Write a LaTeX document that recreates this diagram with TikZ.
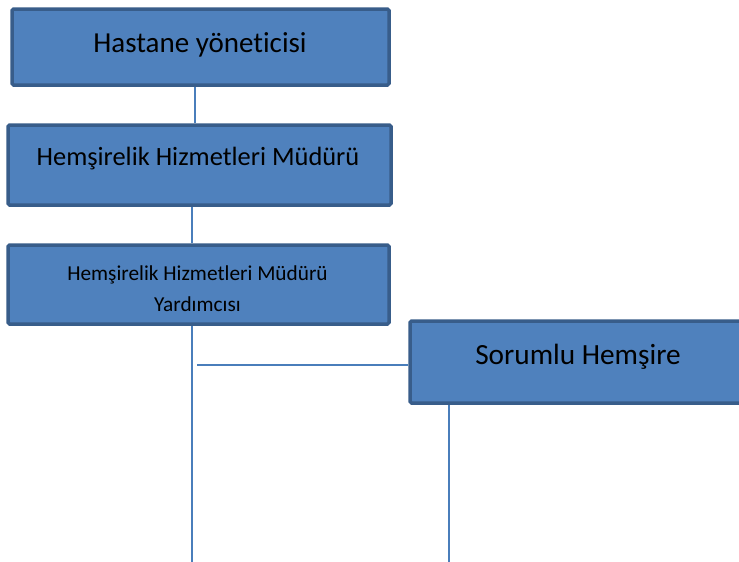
\documentclass[tikz,border=0pt]{standalone}
\usepackage{fontspec}
\setmainfont{Carlito}[Ligatures={NoCommon}]
\definecolor{boxfill}{HTML}{4F81BD}
\definecolor{boxline}{HTML}{385D8A}
\definecolor{conn}{HTML}{4A7EBB}
\tikzset{
  orgbox/.style={draw=boxline, fill=boxfill, line width=3.5pt, rounded corners=1.5pt, inner sep=0pt},
  conline/.style={draw=conn, line width=1.5pt},
  lbl/.style={inner sep=0pt, text=black, anchor=base}
}
\begin{document}
\begin{tikzpicture}[x=1pt,y=-1pt]
\clip (0,0) rectangle (739,562);
\fill[white] (0,0) rectangle (739,562);
% boxes
\node[orgbox, minimum width=377pt, minimum height=76pt] (b1) at (200.5,47) {};
\node[orgbox, minimum width=383pt, minimum height=80pt] (b2) at (199.5,165) {};
\node[orgbox, minimum width=381pt, minimum height=79pt] (b3) at (198.5,284.5) {};
\node[orgbox, minimum width=350pt, minimum height=82pt] (b4) at (585,362) {};
% texts
\node[lbl, font=\fontsize{29}{34}\selectfont] (t1) at (200,52.5) {Hastane yöneticisi};
\node[lbl, font=\fontsize{26.4}{31}\selectfont] (t2) at (198,165.5) {Hemşirelik Hizmetleri Müdürü};
\begin{scope}
\clip (10,248) rectangle (386,311);
\node[lbl, font=\fontsize{21.3}{25}\selectfont] (t3a) at (197.5,280.5) {Hemşirelik Hizmetleri Müdürü};
\node[lbl, font=\fontsize{21.3}{25}\selectfont] (t3b) at (197.5,311) {Yardımcısı};
\end{scope}
\node[lbl, font=\fontsize{29.3}{34}\selectfont] (t4) at (578,364.5) {Sorumlu Hemşire};
% connectors
\coordinate (e1) at (192,562);
\coordinate (h1) at (197,365);
\coordinate (e2) at (449,562);
\draw[conline] (b1.south -| 195,0) -- (b2.north -| 195,0);
\draw[conline] (b2.south -| 192,0) -- (b3.north -| 192,0);
\draw[conline] (b3.south -| e1) -- (e1);
\draw[conline] (h1) -- (h1 -| b4.west);
\draw[conline] (b4.south -| e2) -- (e2);
\end{tikzpicture}
\end{document}
